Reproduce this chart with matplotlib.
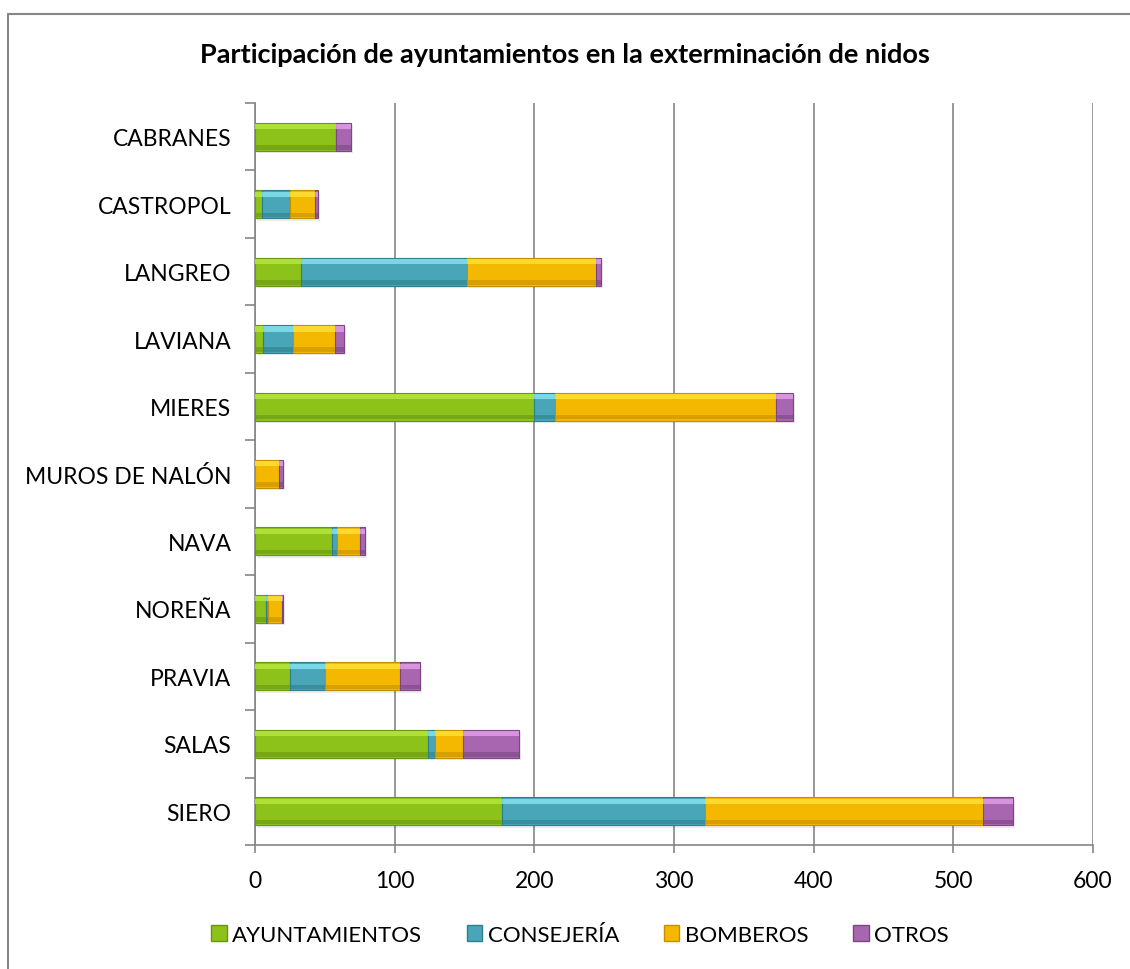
import numpy as np
import matplotlib
matplotlib.use("Agg")
import matplotlib.pyplot as plt
from matplotlib.patches import Rectangle, Patch

plt.rcParams['font.family'] = ['Lato', 'DejaVu Sans']

# data
municipios = ['CABRANES', 'CASTROPOL', 'LANGREO', 'LAVIANA', 'MIERES',
              'MUROS DE NALÓN', 'NAVA', 'NOREÑA', 'PRAVIA', 'SALAS', 'SIERO']
ayuntamientos = [58, 5, 33, 6, 200, 0, 55, 8, 25, 124, 177]
consejeria = [0, 20, 119, 21, 15, 0, 4, 1, 25, 5, 145]
bomberos = [0, 18, 92, 30, 158, 17, 16, 10, 54, 20, 199]
otros = [11, 2, 4, 7, 12, 3, 4, 1, 14, 40, 22]

series = [('AYUNTAMIENTOS', ayuntamientos),
          ('CONSEJERÍA', consejeria),
          ('BOMBEROS', bomberos),
          ('OTROS', otros)]
# (mid, light, dark)
colores = [('#8CC21A', '#B8E83C', '#6A9512'),
           ('#48A6B8', '#86E4F2', '#2F7E8E'),
           ('#F5B800', '#FFE23A', '#C68F00'),
           ('#A866B0', '#E6A0EC', '#7A4782')]

fig = plt.figure(figsize=(11.3, 9.7), dpi=100)
ax = fig.add_axes([255/1130, 124/970, 838/1130, 742/970])

y = np.arange(len(municipios))
h = 0.415
left = np.zeros(len(municipios))
handles = []
for (nombre, vals), (mid, light, dark) in zip(series, colores):
    vals = np.array(vals, dtype=float)
    # sombra suave
    ax.barh(y + 0.035, vals, left=left + 1.5, height=h, color='#000000',
            alpha=0.08, linewidth=0, zorder=2)
    ax.barh(y, vals, left=left, height=h, color=mid, edgecolor=dark,
            linewidth=0.8, zorder=3)
    # bisel: franja clara arriba y oscura abajo
    ax.barh(y - h*0.36, vals, left=left, height=h*0.18, color=light,
            linewidth=0, alpha=0.8, zorder=4)
    ax.barh(y + h*0.38, vals, left=left, height=h*0.16, color=dark,
            linewidth=0, alpha=0.6, zorder=4)
    left += vals
    handles.append(Patch(facecolor=mid, edgecolor=dark, label=nombre))

ax.set_xlim(0, 600)
ax.set_ylim(len(municipios) - 0.5, -0.5)
ax.set_xticks(np.arange(0, 601, 100))
ax.set_yticks(y)
ax.set_yticklabels(municipios)
ax.set_yticks(np.arange(-0.5, len(municipios)), minor=True)

gris = '#868686'
ax.grid(axis='x', color=gris, linewidth=1.2, zorder=0)
ax.set_axisbelow(True)
for s in ['top', 'right']:
    ax.spines[s].set_visible(False)
for s in ['left', 'bottom']:
    ax.spines[s].set_color(gris)
    ax.spines[s].set_linewidth(1.2)

ax.tick_params(axis='y', which='major', length=0, pad=17, labelsize=16.5)
ax.tick_params(axis='y', which='minor', length=7, width=1.2, color=gris)
ax.tick_params(axis='x', which='major', length=6, width=1.2, color=gris,
               pad=12, labelsize=16.5)

fig.text(565/1130, 1 - 55/970,
         'Participación de ayuntamientos en la exterminación de nidos',
         ha='center', va='center', fontsize=19.5, fontweight='bold')

fig.legend(handles=handles, loc='center', bbox_to_anchor=(580/1130, 1 - 936/970),
           ncol=4, frameon=False, fontsize=16, handlelength=0.7,
           handleheight=0.7, handletextpad=0.25, columnspacing=2.0)

# borde del gráfico
fig.patches.append(Rectangle((8/1130, -0.1), 1.2, 1.1 - 15/970,
                             transform=fig.transFigure, fill=False,
                             edgecolor=gris, linewidth=1.5))

fig.savefig('out.png', dpi=100, facecolor='white')
